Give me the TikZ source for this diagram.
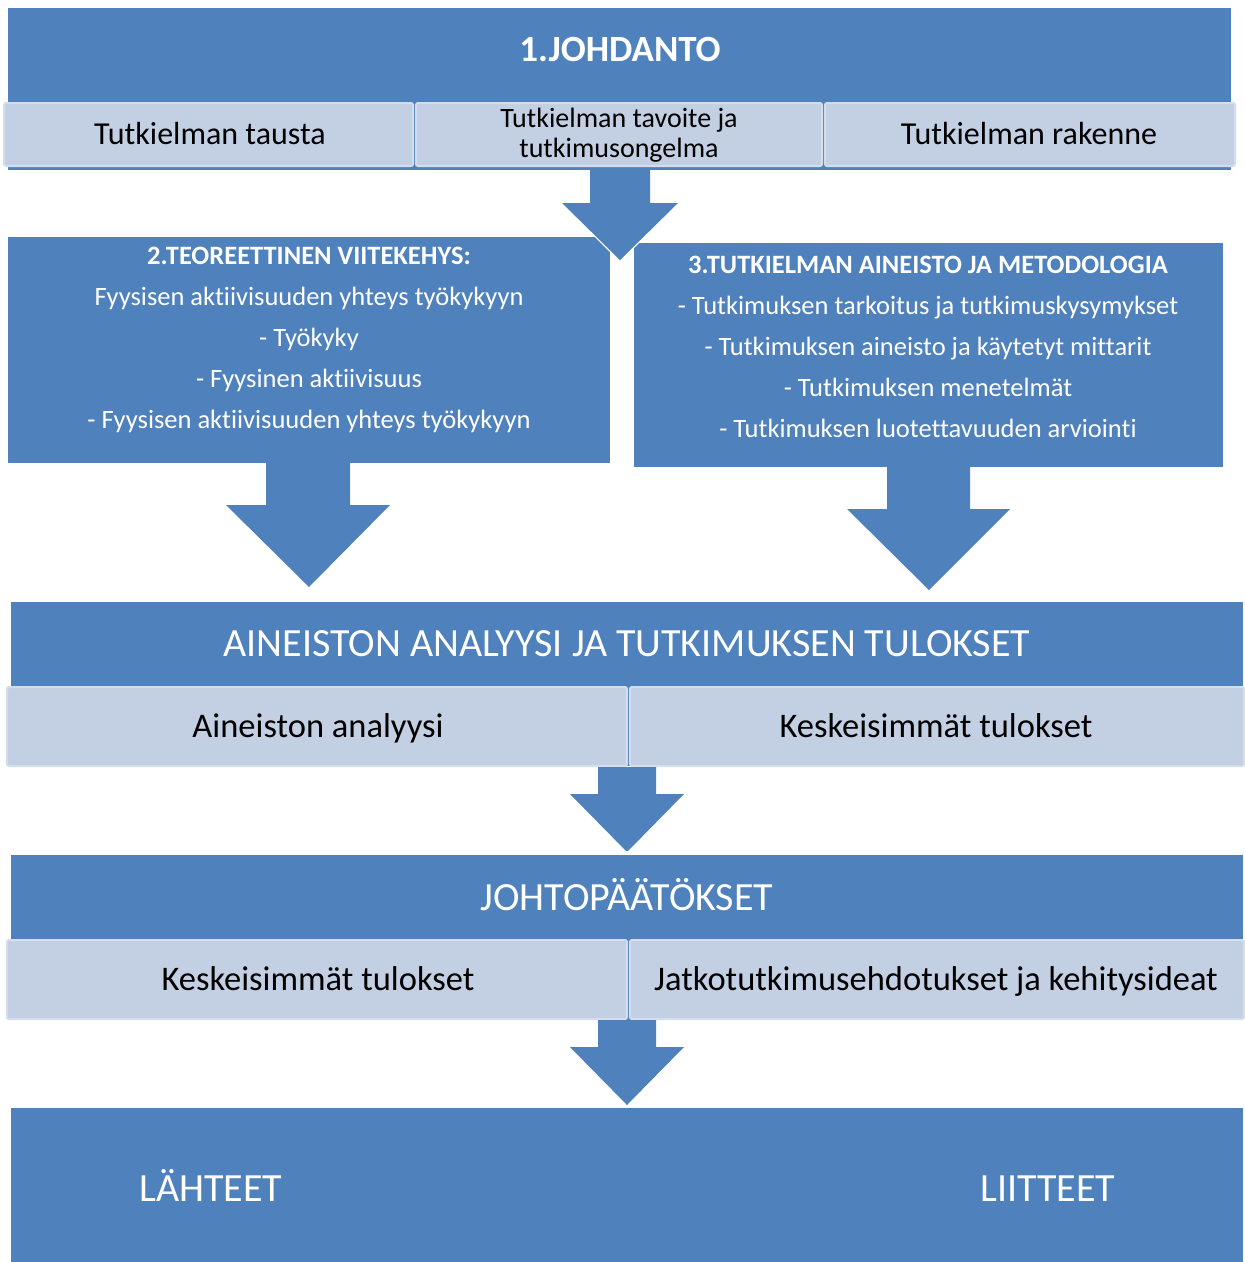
\documentclass[tikz,border=0pt]{standalone}
\usepackage{fontspec}
\setmainfont[Ligatures=NoCommon]{Carlito}
\usetikzlibrary{fit}
\definecolor{blu}{HTML}{4F81BD}
\definecolor{lite}{HTML}{C3CFE3}
\definecolor{liteedge}{HTML}{D4DDEB}
\begin{document}
\begin{tikzpicture}[x=1pt,y=-1pt,
  bluebox/.style={fill=blu,draw=none,inner sep=0pt,outer sep=0pt},
  subbox/.style={fill=lite,draw=liteedge,line width=2pt,rounded corners=2pt,inner sep=0pt},
  titletext/.style={text=white,inner sep=0pt,anchor=base,font=\fontsize{40}{46}\selectfont},
  subtext/.style={text=black,inner sep=0pt,anchor=base,align=center,font=\fontsize{32}{36}\selectfont},
  lowsubtext/.style={subtext,font=\fontsize{34.5}{40}\selectfont},
  listtext/.style={text=white,inner sep=0pt,align=center,font=\fontsize{26.5}{41}\selectfont},
  blockarrow/.style={fill=blu,draw=none},
  tipedge/.style={draw=white,line width=1.5pt,line join=miter}
]
\useasboundingbox (0,0) rectangle (1245,1262);

% ---------- 1. JOHDANTO ----------
\node[bluebox,fit={(8,8) (1231,170)}] (intro) {};
\node[titletext,font=\fontsize{37}{42}\selectfont\bfseries] (introt) at (620,61) {1.JOHDANTO};
\node[subbox,fit={(4,103) (413,166)}] (s1a) {};
\node[subbox,fit={(416,103) (822,166)}] (s1b) {};
\node[subbox,fit={(825,103) (1235,166)}] (s1c) {};
\node[subtext] (s1at) at (210,144) {Tutkielman tausta};
\node[subtext,anchor=center,font=\fontsize{28}{30}\selectfont] (s1bt) at (619,135) {Tutkielman tavoite ja\\tutkimusongelma};
\node[subtext] (s1ct) at (1029,144) {Tutkielman rakenne};

% ---------- 2 and 3 ----------
\node[bluebox,fit={(8,237) (610,463)}] (teo) {};
\node[listtext] (teot) at (309,339.5) {{\bfseries 2.TEOREETTINEN VIITEKEHYS:}\\
Fyysisen aktiivisuuden yhteys työkykyyn\\
- Työkyky\\
- Fyysinen aktiivisuus\\
- Fyysisen aktiivisuuden yhteys työkykyyn};

\node[bluebox,fit={(634,243) (1223,467)}] (met) {};
\node[listtext] (mett) at (928,346.5) {{\bfseries 3.TUTKIELMAN AINEISTO JA METODOLOGIA}\\
- Tutkimuksen tarkoitus ja tutkimuskysymykset\\
- Tutkimuksen aineisto ja käytetyt mittarit\\
- Tutkimuksen menetelmät\\
- Tutkimuksen luotettavuuden arviointi};

% arrow 1
\fill[blockarrow] (590,170) -- (650,170) -- (650,203) -- (678,203) -- (620,261) -- (562,203) -- (590,203) -- cycle;
\draw[tipedge] (562,203) -- (620,261) -- (678,203);
\fill[blockarrow] (562,203) -- (620,260) -- (678,203) -- cycle;

% ---------- 4. AINEISTON ANALYYSI ----------
\node[bluebox,fit={(11,602) (1243,766)}] (ana) {};
\node[titletext] (anat) at (627,656) {AINEISTON ANALYYSI JA TUTKIMUKSEN TULOKSET};
\node[subbox,fit={(7,687) (627,766)}] (s4a) {};
\node[subbox,fit={(630,687) (1244,766)}] (s4b) {};
\node[lowsubtext] (s4at) at (318,737) {Aineiston analyysi};
\node[lowsubtext] (s4bt) at (936,737) {Keskeisimmät tulokset};

% arrows 2 and 3
\fill[blockarrow] (266,463) -- (350,463) -- (350,505) -- (390,505) -- (309,587) -- (226,505) -- (266,505) -- cycle;
\fill[blockarrow] (887,467) -- (970,467) -- (970,509) -- (1010,509) -- (929,590) -- (847,509) -- (887,509) -- cycle;

% ---------- 5. JOHTOPÄÄTÖKSET ----------
\node[bluebox,fit={(11,855) (1243,1020)}] (joh) {};
\node[titletext] (joht) at (627,910) {JOHTOPÄÄTÖKSET};
\node[subbox,fit={(7,940) (627,1019)}] (s5a) {};
\node[subbox,fit={(630,940) (1244,1019)}] (s5b) {};
\node[lowsubtext] (s5at) at (318,990) {Keskeisimmät tulokset};
\node[lowsubtext] (s5bt) at (936,990) {Jatkotutkimusehdotukset ja kehitysideat};

% arrow 4
\fill[blockarrow] (598,767) -- (656,767) -- (656,794) -- (684,794) -- (627,852) -- (570,794) -- (598,794) -- cycle;
\draw[white,line width=1.5pt] (620,852) -- (634,852);

% ---------- 6. LÄHTEET / LIITTEET ----------
\node[bluebox,fit={(11,1108) (1243,1262)}] (lah) {};
\node[titletext] (laht) at (211,1201) {LÄHTEET};
\node[titletext] (liit) at (1048,1201) {LIITTEET};

% arrow 5
\fill[blockarrow] (598,1020) -- (656,1020) -- (656,1047) -- (684,1047) -- (627,1105) -- (570,1047) -- (598,1047) -- cycle;
\end{tikzpicture}
\end{document}
